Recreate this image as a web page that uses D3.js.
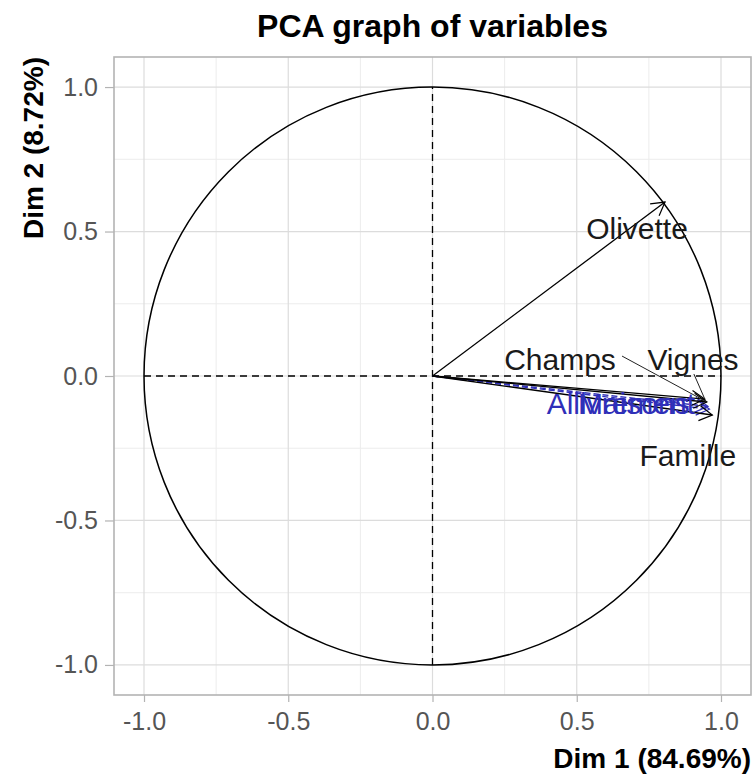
<!DOCTYPE html>
<html><head><meta charset="utf-8">
<script src="https://cdn.jsdelivr.net/npm/d3@7"></script>
<style>body{margin:0;background:#fff;}svg{display:block;font-family:"Liberation Sans",Arial,sans-serif;}</style>
</head><body>
<div id="chart"></div>
<script>
// ---- data ----
const title = "PCA graph of variables";
const xTitle = "Dim 1 (84.69%)";
const yTitle = "Dim 2 (8.72%)";
const tickValues = [-1.0, -0.5, 0.0, 0.5, 1.0];
const tickLabels = ["-1.0", "-0.5", "0.0", "0.5", "1.0"];
const minorValues = [-0.75, -0.25, 0.25, 0.75];

// active variables (black): arrow tip coordinates
const activeNames = ["Olivette", "Champs", "Vignes", "Famille"];
const activeDim1  = [0.806, 0.951, 0.944, 0.970];
const activeDim2  = [0.602, -0.090, -0.080, -0.135];
// label positions (repelled), data units
const activeLabX  = [0.709, 0.442, 0.903, 0.885];
const activeLabY  = [0.512, 0.059, 0.059, -0.273];
// repel connector start (null = none)
const activeSegX  = [null, 0.657, 0.906, null];
const activeSegY  = [null, 0.069, 0.007, null];

// supplementary variables (blue)
const suppNames = ["Allivrement", "Maisons"];
const suppDim1  = [0.955, 0.960];
const suppDim2  = [-0.105, -0.115];
const suppLabX  = [0.653, 0.698];
const suppLabY  = [-0.093, -0.093];

// ---- layout ----
const W = 756, H = 775;
const L = 114, R = 751, T = 57, B = 695;
const lim = 1.104;
const BLUE = "#2f2fb8";

const svg = d3.select("#chart").append("svg").attr("width", W).attr("height", H);
const x = d3.scaleLinear().domain([-lim, lim]).range([L, R]);
const y = d3.scaleLinear().domain([-lim, lim]).range([B, T]);

const defs = svg.append("defs");
function marker(id, col){
  defs.append("marker").attr("id", id).attr("markerUnits","userSpaceOnUse")
    .attr("viewBox","-16 -10 18 20").attr("refX",0).attr("refY",0)
    .attr("markerWidth",18).attr("markerHeight",20).attr("orient","auto")
    .append("path").attr("d","M-13,-7.5L0,0L-13,7.5").attr("fill","none")
    .attr("stroke",col).attr("stroke-width",1.2);
}
marker("ahB","#000"); marker("ahS",BLUE);

// grid
const g = svg.append("g");
g.selectAll(".mnx").data(minorValues).join("line")
  .attr("x1",d=>x(d)).attr("x2",d=>x(d)).attr("y1",T).attr("y2",B)
  .attr("stroke","#ececec").attr("stroke-width",1);
g.selectAll(".mny").data(minorValues).join("line")
  .attr("y1",d=>y(d)).attr("y2",d=>y(d)).attr("x1",L).attr("x2",R)
  .attr("stroke","#ececec").attr("stroke-width",1);
g.selectAll(".mjx").data(tickValues).join("line")
  .attr("x1",d=>x(d)).attr("x2",d=>x(d)).attr("y1",T).attr("y2",B)
  .attr("stroke","#dcdcdc").attr("stroke-width",1.2);
g.selectAll(".mjy").data(tickValues).join("line")
  .attr("y1",d=>y(d)).attr("y2",d=>y(d)).attr("x1",L).attr("x2",R)
  .attr("stroke","#dcdcdc").attr("stroke-width",1.2);

// axes
const fmt = (d) => tickLabels[tickValues.indexOf(d)];
const ax = svg.append("g").attr("transform",`translate(0,${B})`)
  .call(d3.axisBottom(x).tickValues(tickValues).tickFormat(fmt).tickSize(7).tickPadding(10));
const ay = svg.append("g").attr("transform",`translate(${L},0)`)
  .call(d3.axisLeft(y).tickValues(tickValues).tickFormat(fmt).tickSize(9).tickPadding(7));
[ax, ay].forEach(a => {
  a.select(".domain").remove();
  a.selectAll(".tick line").attr("stroke","#b3b3b3").attr("stroke-width",1.2);
  a.selectAll(".tick text").attr("fill","#555").style("font-size","25px")
   .style("font-family","'Liberation Sans',Arial,sans-serif");
});
ax.selectAll(".tick text").attr("dy","0.72em");

// panel border
svg.append("rect").attr("x",L).attr("y",T).attr("width",R-L).attr("height",B-T)
  .attr("fill","none").attr("stroke","#b3b3b3").attr("stroke-width",1.6);

// dashed axes lines and unit circle
svg.append("line").attr("x1",x(-1)).attr("x2",x(1)).attr("y1",y(0)).attr("y2",y(0))
  .attr("stroke","#000").attr("stroke-width",1.3).attr("stroke-dasharray","7,5");
svg.append("line").attr("x1",x(0)).attr("x2",x(0)).attr("y1",y(-1)).attr("y2",y(1))
  .attr("stroke","#000").attr("stroke-width",1.3).attr("stroke-dasharray","7,5");
svg.append("ellipse").attr("cx",x(0)).attr("cy",y(0))
  .attr("rx",x(1)-x(0)).attr("ry",y(0)-y(1))
  .attr("fill","none").attr("stroke","#000").attr("stroke-width",1.5);

// supplementary arrows
const supp = suppNames.map((n,i)=>({n, x:suppDim1[i], y:suppDim2[i], lx:suppLabX[i], ly:suppLabY[i]}));
const act = activeNames.map((n,i)=>({n, x:activeDim1[i], y:activeDim2[i], lx:activeLabX[i], ly:activeLabY[i], sx:activeSegX[i], sy:activeSegY[i]}));

svg.append("g").selectAll("line").data(supp).join("line")
  .attr("x1",x(0)).attr("y1",y(0)).attr("x2",d=>x(d.x)).attr("y2",d=>y(d.y))
  .attr("stroke",BLUE).attr("stroke-width",1.4).attr("stroke-dasharray","6,3")
  .attr("marker-end","url(#ahS)");
svg.append("g").selectAll("line").data(act).join("line")
  .attr("x1",x(0)).attr("y1",y(0)).attr("x2",d=>x(d.x)).attr("y2",d=>y(d.y))
  .attr("stroke","#000").attr("stroke-width",1.3)
  .attr("marker-end","url(#ahB)");

// repel connectors
svg.append("g").selectAll("line").data(act.filter(d=>d.sx!==null)).join("line")
  .attr("x1",d=>x(d.sx)).attr("y1",d=>y(d.sy)).attr("x2",d=>x(d.x)).attr("y2",d=>y(d.y))
  .attr("stroke","#222").attr("stroke-width",1);

// labels
svg.append("g").selectAll("text").data(supp).join("text")
  .attr("x",d=>x(d.lx)).attr("y",d=>y(d.ly)).attr("dy","0.36em")
  .attr("text-anchor","middle").attr("fill",BLUE).style("font-size","30px").text(d=>d.n);
svg.append("g").selectAll("text").data(act).join("text")
  .attr("x",d=>x(d.lx)).attr("y",d=>y(d.ly)).attr("dy","0.36em")
  .attr("text-anchor","middle").attr("fill","#1a1a1a").style("font-size","30px").text(d=>d.n);

// titles
svg.append("text").attr("x",(L+R)/2).attr("y",37).attr("text-anchor","middle")
  .style("font-size","32px").style("font-weight","bold").attr("fill","#000").text(title);
svg.append("text").attr("x",R).attr("y",768).attr("text-anchor","end")
  .style("font-size","28px").style("font-weight","bold").attr("fill","#000").text(xTitle);
svg.append("text").attr("transform",`translate(43,${T}) rotate(-90)`).attr("text-anchor","end")
  .style("font-size","28px").style("font-weight","bold").attr("fill","#000").text(yTitle);
</script>
</body></html>
